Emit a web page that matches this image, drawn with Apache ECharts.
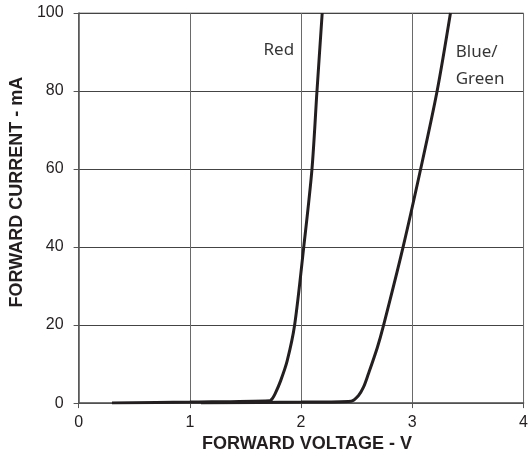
<!DOCTYPE html>
<html>
<head>
<meta charset="utf-8">
<style>
  html, body { margin: 0; padding: 0; background: #fff; }
  #chart { width: 531px; height: 458px; }
</style>
<script src="https://cdn.jsdelivr.net/npm/echarts@6/dist/echarts.min.js"></script>
</head>
<body>
<div id="chart"></div>
<script>
// forward voltage (V) vs forward current (mA)
const redCurve = [
  [0.30, 0], [1.00, 0.25], [1.72, 0.6], [1.74, 1.1], [1.765, 2.3], [1.816, 5.7],
  [1.875, 10.8], [1.942, 20], [2.024, 40], [2.098, 60],
  [2.143, 80], [2.19, 100]
];
const blueGreenCurve = [
  [1.10, 0], [2.00, 0.25], [2.45, 0.5], [2.515, 1.9], [2.56, 4.0], [2.604, 7.4],
  [2.685, 14.2], [2.742, 20], [2.917, 40], [3.075, 60],
  [3.223, 80], [3.343, 100]
];
const labelNames = ['Red', 'Blue/\nGreen'];
const labelPoints = [[1.80, 90.4], [3.39, 86.4]];
const labelAlign = ['center', 'left'];
const xTitle = 'FORWARD VOLTAGE - V';
const yTitle = 'FORWARD CURRENT - mA';

const chart = echarts.init(document.getElementById('chart'), null, { renderer: 'canvas' });

const ink = '#231f20';
const lineStyle = { color: ink, width: 3 };
const axisFont = { color: ink, fontSize: 16, fontFamily: 'Liberation Sans, Arial, sans-serif' };
const titleFont = {
  color: ink, fontSize: 18, fontWeight: 'bold',
  fontFamily: 'Liberation Sans, Arial, sans-serif'
};

chart.setOption({
  animation: false,
  grid: {
    left: 78, right: 5, top: 13, bottom: 52,
    show: true, borderColor: '#8a8a8a', borderWidth: 1
  },
  xAxis: {
    type: 'value', min: 0, max: 4, interval: 1,
    name: xTitle, nameLocation: 'middle', nameGap: 30,
    nameTextStyle: Object.assign({ padding: [0, 0, 0, 12] }, titleFont),
    axisLine: { show: true, lineStyle: { color: '#555', width: 1.5 } },
    axisTick: { show: true, length: 5, lineStyle: { color: '#555' } },
    axisLabel: Object.assign({ margin: 11 }, axisFont),
    splitLine: { show: true, lineStyle: { color: '#6a6a6a', width: 1 } }
  },
  yAxis: {
    type: 'value', min: 0, max: 100, interval: 20,
    name: yTitle, nameLocation: 'middle', nameGap: 50, nameRotate: 90,
    nameTextStyle: Object.assign({ padding: [0, 0, 0, 32] }, titleFont),
    axisLine: { show: true, lineStyle: { color: '#555', width: 1.5 } },
    axisTick: { show: true, length: 5, lineStyle: { color: '#555' } },
    axisLabel: Object.assign({ margin: 15 }, axisFont),
    splitLine: { show: true, lineStyle: { color: '#444', width: 1 } }
  },
  series: [
    {
      name: 'Red', type: 'line', data: redCurve, smooth: 0.3,
      showSymbol: false, lineStyle, clip: true
    },
    {
      name: 'Blue/Green', type: 'line', data: blueGreenCurve, smooth: 0.3,
      showSymbol: false, lineStyle, clip: true
    },
    {
      type: 'scatter', symbolSize: 1, silent: true,
      itemStyle: { color: 'rgba(0,0,0,0)' },
      label: {
        show: true, position: 'inside',
        formatter: (p) => labelNames[p.dataIndex],
        color: '#000', fontSize: 17, lineHeight: 27,
        fontFamily: 'Noto Sans, Open Sans, sans-serif'
      },
      data: labelPoints.map((pt, i) => ({ value: pt, label: { align: labelAlign[i] } }))
    }
  ]
});
</script>
</body>
</html>
